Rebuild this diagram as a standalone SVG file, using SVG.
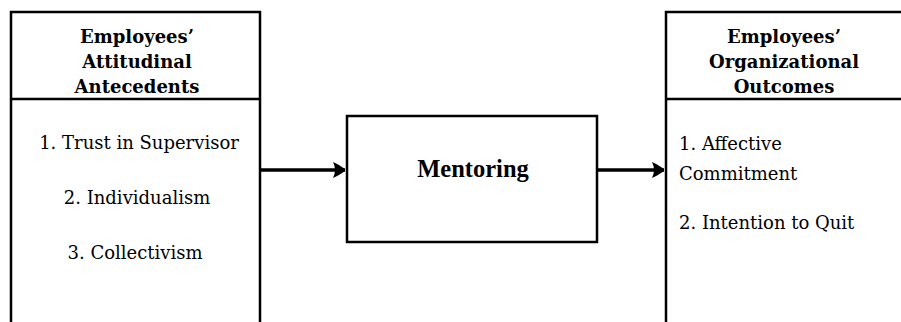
<svg xmlns="http://www.w3.org/2000/svg" width="901" height="322" viewBox="0 0 901 322">
<defs>
<style>
.box{fill:#fff;stroke:#000;stroke-width:2.5}
.ln{stroke:#000;stroke-width:2.5;fill:none}
.hd{font-family:"DejaVu Serif","Liberation Serif",serif;font-weight:bold;font-size:18px;text-anchor:middle;fill:#000}
.it{font-family:"DejaVu Serif","Liberation Serif",serif;font-size:18px;fill:#000}
.mt{font-family:"Liberation Serif",serif;font-weight:bold;font-size:24.5px;text-anchor:middle;fill:#000}
.arr{stroke:#000;stroke-width:3.5;fill:none}
</style>
<marker id="ah" markerWidth="14" markerHeight="20" viewBox="0 0 14 20" refX="13" refY="10" orient="auto" markerUnits="userSpaceOnUse">
<path d="M1,2 Q6,4 13,9 L13,11 Q6,16 1,18 Q5,10 1,2 Z" fill="#000"/>
</marker>
</defs>
<g id="antecedents">
<path class="ln" d="M11,330 L11,12 L260,12 L260,330"/>
<line class="ln" x1="11" y1="99" x2="260" y2="99"/>
<text class="hd" x="137" y="43">Employees’</text>
<text class="hd" x="137" y="68">Attitudinal</text>
<text class="hd" x="137" y="93">Antecedents</text>
<text class="it" x="139" y="149" text-anchor="middle">1. Trust in Supervisor</text>
<text class="it" x="137" y="204" text-anchor="middle">2. Individualism</text>
<text class="it" x="135" y="259" text-anchor="middle">3. Collectivism</text>
</g>
<g id="mentoring">
<rect class="box" x="347" y="116" width="250" height="126"/>
<text class="mt" x="473" y="177">Mentoring</text>
</g>
<g id="outcomes">
<path class="ln" d="M666,330 L666,12 L910,12"/>
<line class="ln" x1="666" y1="99" x2="910" y2="99"/>
<text class="hd" x="784" y="43">Employees’</text>
<text class="hd" x="784" y="68">Organizational</text>
<text class="hd" x="784" y="93">Outcomes</text>
<text class="it" x="679" y="150">1. Affective</text>
<text class="it" x="679" y="180">Commitment</text>
<text class="it" x="679" y="229">2. Intention to Quit</text>
</g>
<g id="connectors">
<line class="arr" x1="261" y1="170" x2="345" y2="170" marker-end="url(#ah)"/>
<line class="arr" x1="598" y1="170" x2="664" y2="170" marker-end="url(#ah)"/>
</g>
</svg>
